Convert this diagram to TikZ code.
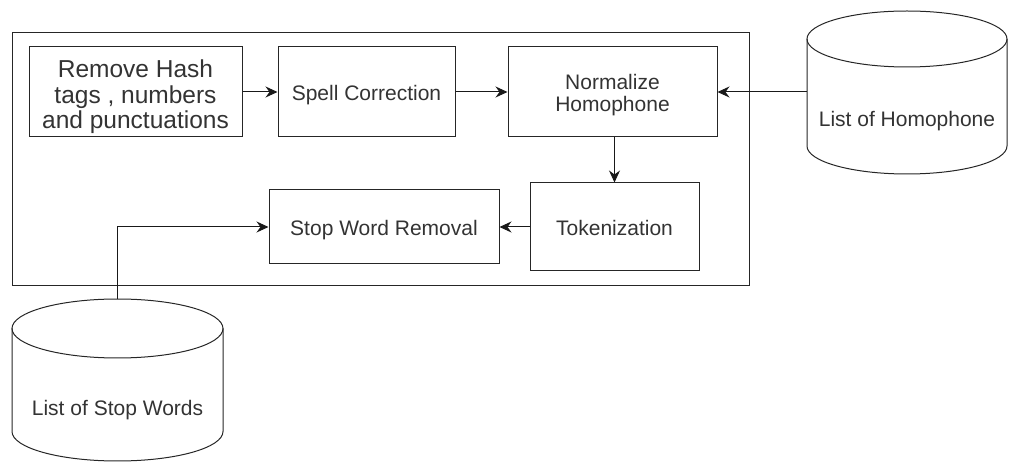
\documentclass[tikz,border=0pt]{standalone}
\usepackage{fontspec}
\setmainfont{Liberation Sans}
\usetikzlibrary{positioning, arrows.meta}
% text of a step, lowered a little inside its box
\newcommand{\steptext}[2][4pt]{\raisebox{-#1}[\height][\depth]{\begin{tabular}{@{}c@{}}#2\end{tabular}}}
\tikzset{
    >={Stealth[length=12pt, width=11pt, inset=4pt]}, % filled arrow heads
    stepbox/.style={draw=black!85, rectangle, inner sep=2pt, text=black!80,
        font=\fontsize{21}{22}\selectfont}, % one processing step
    bigtext/.style={font=\fontsize{24.5}{25}\selectfont}, % first step has larger text
    dbtext/.style={text=black!80, font=\fontsize{21}{22}\selectfont}, % label inside a database
    flow/.style={->, draw=black!90, line width=1pt}, % connector between steps
}

\begin{document}
\begin{tikzpicture}[x=1pt, y=1pt, line width=1pt]
    \useasboundingbox (0,0) rectangle (1013,-462);

    % frame round the pipeline
    \draw[black!85] (12,-33) rectangle (749,-286);

    % steps
    \node[stepbox, bigtext, minimum width=213pt, minimum height=90pt] (hash) at (135.5,-92)
        {\steptext[6pt]{Remove Hash\\tags , numbers\\and punctuations}};
    \node[stepbox, minimum width=177pt, minimum height=90pt, right=35pt of hash] (spell) {\steptext{Spell Correction}};
    \node[stepbox, minimum width=209pt, minimum height=90pt, right=52pt of spell] (norm) {\steptext{Normalize\\Homophone}};
    \node[stepbox, minimum width=169pt, minimum height=88pt, below=45pt of norm, xshift=2pt] (token) {\steptext[4.5pt]{Tokenization}};
    \node[stepbox, minimum width=230pt, minimum height=74pt, left=30pt of token] (stopw) {\steptext[4.5pt]{Stop Word Removal}};

    % databases
    \draw[black!85] (807,-39) -- (807,-146) arc (180:360:100 and 28) -- (1007,-39);
    \draw[black!85] (907,-39) ellipse (100 and 28);
    \node[dbtext] (homo) at (907,-121) {List of Homophone};
    \coordinate (homoL) at (807,-92);

    \draw[black!85] (12,-328.5) -- (12,-431.5) arc (180:360:105.5 and 29.5) -- (223,-328.5);
    \draw[black!85] (117.5,-328.5) ellipse (105.5 and 29.5);
    \node[dbtext] (stoplist) at (117.5,-410) {List of Stop Words};
    \coordinate (stopT) at (117.5,-299);

    % connectors
    \draw[flow] (hash) -- (spell);
    \draw[flow] (spell) -- (norm);
    \draw[flow] (homoL) -- (norm.east);
    \draw[flow] (norm.south -| token.north) -- (token);
    \draw[flow] (token) -- (stopw);
    \draw[flow] (stopT) |- (stopw.west);
\end{tikzpicture}
\end{document}
